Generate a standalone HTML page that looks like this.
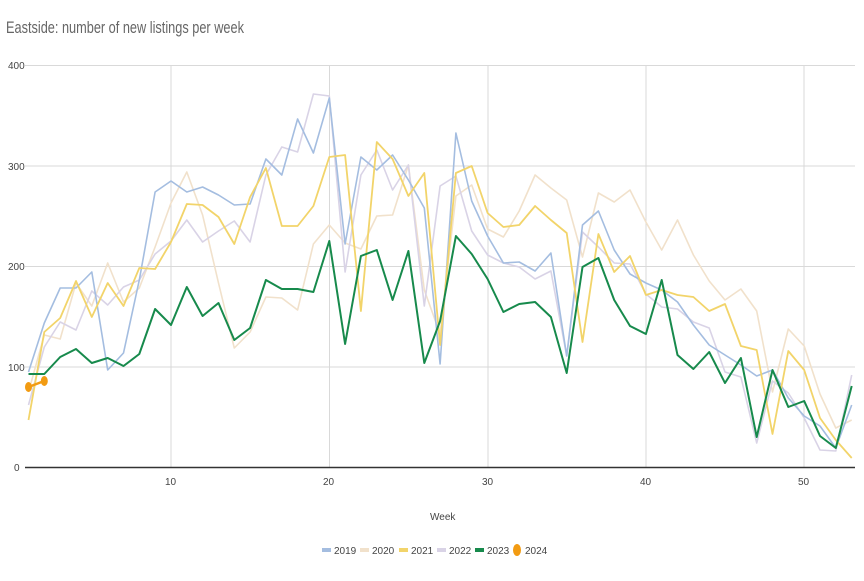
<!DOCTYPE html>
<html><head><meta charset="utf-8"><style>
body{margin:0;background:#fff;width:864px;height:576px;overflow:hidden;font-family:"Liberation Sans",sans-serif}
</style></head><body>
<svg id="s" width="864" height="576" xmlns="http://www.w3.org/2000/svg" font-family="Liberation Sans, sans-serif">
<text x="6" y="33" font-size="17" fill="#666" transform="translate(6 0) scale(0.75,1) translate(-6 0)">Eastside: number of new listings per week</text>
<g stroke="#d9d9d9" stroke-width="1">
<line x1="25" x2="855" y1="65.5" y2="65.5"/><line x1="25" x2="855" y1="166" y2="166"/><line x1="25" x2="855" y1="266.5" y2="266.5"/><line x1="25" x2="855" y1="367" y2="367"/>
<line x1="171" x2="171" y1="65" y2="467"/><line x1="329.5" x2="329.5" y1="65" y2="467"/><line x1="488" x2="488" y1="65" y2="467"/><line x1="646" x2="646" y1="65" y2="467"/><line x1="804" x2="804" y1="65" y2="467"/>
</g>
<line x1="25" x2="855" y1="467.5" y2="467.5" stroke="#333" stroke-width="1.5"/>
<g font-size="10" fill="#444">
<text x="8" y="69">400</text><text x="8" y="170">300</text><text x="8" y="270">200</text><text x="8" y="371">100</text><text x="14" y="471">0</text>
<text x="165" y="485">10</text><text x="323" y="485">20</text><text x="482" y="485">30</text><text x="640" y="485">40</text><text x="798" y="485">50</text>
<text x="430" y="520">Week</text>
</g>
<g id="lines" fill="none" stroke-linejoin="round"></g>
<g font-size="10" fill="#444">
<rect x="322" y="548" width="9" height="4" fill="#a4bde0"/><text x="334" y="554">2019</text>
<rect x="360" y="548" width="9" height="4" fill="#f1e1cb"/><text x="372" y="554">2020</text>
<rect x="399" y="548" width="9" height="4" fill="#f2d46a"/><text x="411" y="554">2021</text>
<rect x="437" y="548" width="9" height="4" fill="#d9d3e6"/><text x="449" y="554">2022</text>
<rect x="475" y="548" width="9" height="4" fill="#178a4c"/><text x="487" y="554">2023</text>
<ellipse cx="517" cy="550" rx="4" ry="6" fill="#f29b12"/><text x="525" y="554">2024</text>
</g>
</svg>
<script>
var S={
c2020:["#f1e1cb",1.6,[392,335,339,283,306,263,302,288,247,203,172,215,283,348,332,297,298,310,244,225,243,249,216,215,165,290,334,196,185,229,237,211,175,188,200,257,193,202,190,222,250,220,255,281,300,289,311,392,329,346,394,428,420]],
c2022:["#d9d3e6",1.6,[405,347,322,330,291,305,287,280,254,241,220,242,231,221,242,175,147,152,94,96,272,175,150,190,165,306,186,176,231,255,263,267,279,271,356,232,247,263,264,294,307,309,322,328,372,377,443,381,393,418,450,451,375]],
c2019:["#a4bde0",1.6,[372,323,288,288,272,370,353,280,192,181,192,187,195,205,204,159,175,119,153,98,244,157,170,155,180,208,364,133,201,236,263,262,271,253,356,225,211,250,274,283,290,302,325,345,355,365,376,370,398,416,426,448,405]],
c2021:["#f2d46a",1.8,[420,332,318,281,317,283,306,268,269,242,204,205,217,244,197,168,226,226,206,157,155,311,142,159,196,173,345,173,166,213,227,225,206,220,233,342,234,272,256,295,290,295,297,311,304,346,350,434,351,370,418,440,458]],
c2023:["#178a4c",2,[374,374,357,349,363,358,366,354,309,325,287,316,303,340,328,280,289,289,292,241,344,256,250,300,251,363,321,236,254,279,312,304,302,317,373,267,258,300,326,334,280,355,369,352,383,358,437,370,407,401,436,448,386]],
c2024:["#f29b12",2.5,[387,381]]};
var g=document.getElementById('lines'),ns="http://www.w3.org/2000/svg";
for(var k in S){var d=S[k],p=d[2].map(function(y,i){return (28.5+i*15.83).toFixed(1)+","+y}).join(" ");
var e=document.createElementNS(ns,"polyline");e.setAttribute("points",p);e.setAttribute("stroke",d[0]);e.setAttribute("stroke-width",d[1]);g.appendChild(e);}
[[28.5,387],[44.3,381]].forEach(function(q){var c=document.createElementNS(ns,"ellipse");c.setAttribute("cx",q[0]);c.setAttribute("cy",q[1]);c.setAttribute("rx",3.5);c.setAttribute("ry",5);c.setAttribute("fill","#f29b12");g.appendChild(c);});
</script>
</body></html>
